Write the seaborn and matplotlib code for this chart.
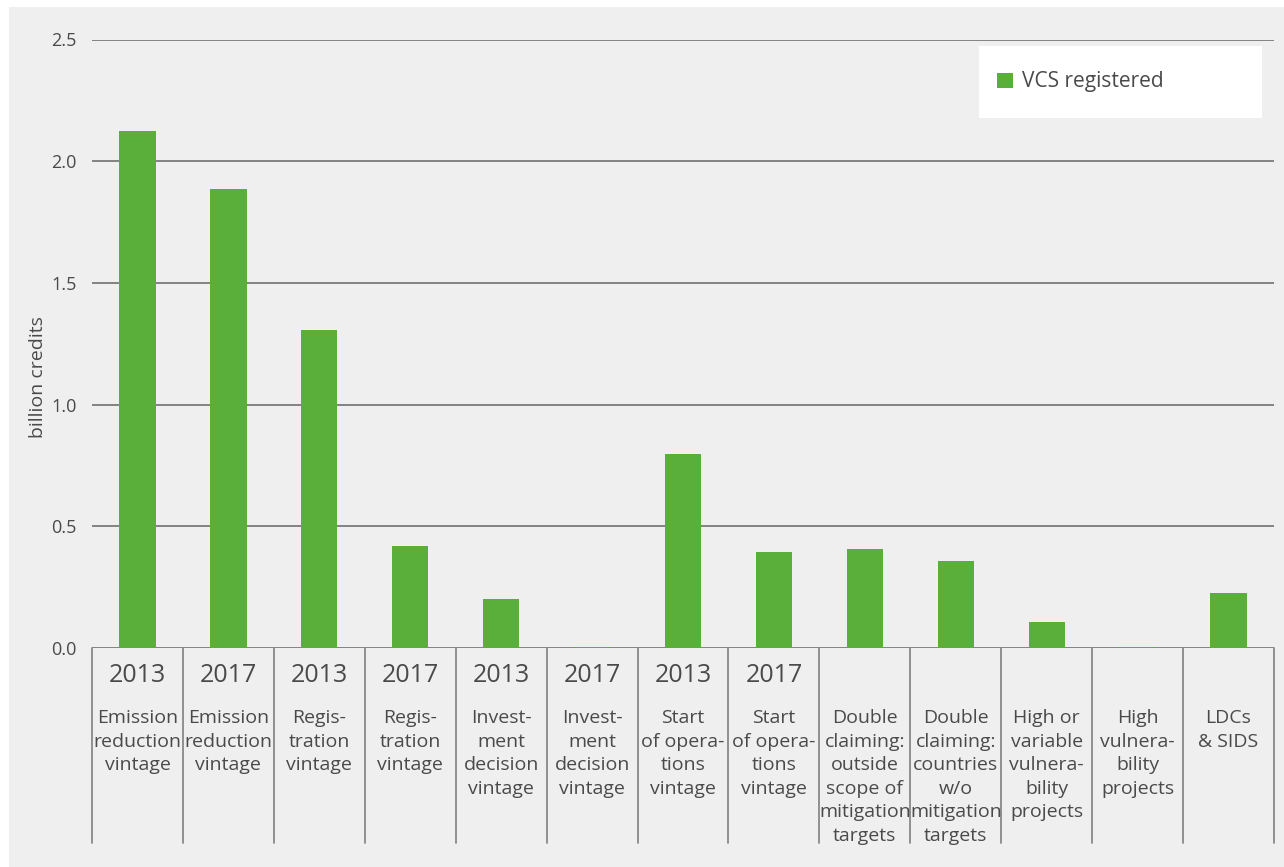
import matplotlib
matplotlib.use("Agg")
import matplotlib.pyplot as plt
import matplotlib.transforms as mtransforms
from matplotlib.patches import Rectangle
from matplotlib.lines import Line2D
import seaborn as sns
import pandas as pd

# ---- data ----
years = ["2013", "2017", "2013", "2017", "2013", "2017", "2013", "2017",
         "", "", "", "", ""]
categories = [
    "Emission\nreduction\nvintage",
    "Emission\nreduction\nvintage",
    "Regis-\ntration\nvintage",
    "Regis-\ntration\nvintage",
    "Invest-\nment\ndecision\nvintage",
    "Invest-\nment\ndecision\nvintage",
    "Start\nof opera-\ntions\nvintage",
    "Start\nof opera-\ntions\nvintage",
    "Double\nclaiming:\noutside\nscope of\nmitigation\ntargets",
    "Double\nclaiming:\ncountries\nw/o\nmitigation\ntargets",
    "High or\nvariable\nvulnera-\nbility\nprojects",
    "High\nvulnera-\nbility\nprojects",
    "LDCs\n& SIDS",
]
values = [2.125, 1.885, 1.305, 0.42, 0.20, 0.004, 0.795, 0.393,
          0.405, 0.357, 0.105, 0.004, 0.225]
series_name = "VCS registered"
y_ticks = [0.0, 0.5, 1.0, 1.5, 2.0, 2.5]
y_label = "billion credits"

W, H = 1284, 867
BG = "#efefef"
GREEN = "#5aaf3a"
TXT = "#4a4a4a"
LINE = "#707070"

sns.set_theme(style="white")
plt.rcParams["font.family"] = ["Open Sans", "DejaVu Sans"]

fig = plt.figure(figsize=(W / 100, H / 100), dpi=100)
fig.patch.set_facecolor("white")
fig.patches.append(Rectangle((9 / W, 0), 1 - 9 / W, 1 - 7 / H,
                             transform=fig.transFigure, facecolor=BG,
                             edgecolor="none", zorder=-10))

ax = fig.add_axes([92 / W, 1 - 648 / H, (1274 - 92) / W, (648 - 39.5) / H])
ax.set_facecolor("none")

df = pd.DataFrame({"key": [f"c{i}" for i in range(len(values))],
                   "value": values})
sns.barplot(data=df, x="key", y="value", color=GREEN, width=0.4,
            saturation=1, ax=ax, zorder=3, label=series_name, linewidth=0)
ax.set_xlim(-0.5, len(values) - 0.5)
ax.set_ylim(0, 2.5)
ax.set_yticks(y_ticks)
ax.set_yticklabels([f"{t:.1f}" for t in y_ticks], fontsize=13, color=TXT)
ax.tick_params(axis="y", length=0, pad=11)
ax.set_xticks([])
ax.set_xlabel("")
ax.set_ylabel("")
for s in ax.spines.values():
    s.set_visible(False)
ax.yaxis.grid(True, color=LINE, lw=1.2, zorder=0)
ax.set_axisbelow(True)

fig.text(38 / W, 1 - 377 / H, y_label, rotation=90, ha="center",
         va="center", fontsize=14, color=TXT)

# category dividers and labels below the axis
tr = mtransforms.blended_transform_factory(ax.transData, fig.transFigure)
for i in range(len(values) + 1):
    ax.add_line(Line2D([i - 0.5, i - 0.5], [1 - 648 / H, 1 - 843 / H],
                       transform=tr, color="#888888", lw=1.3, clip_on=False))
for i, (yr, cat) in enumerate(zip(years, categories)):
    if yr:
        ax.text(i, 1 - 675 / H, yr, transform=tr, ha="center", va="center",
                fontsize=18, color=TXT)
    ax.text(i, 1 - 709 / H, cat, transform=tr, ha="center", va="top",
            fontsize=14, color=TXT, linespacing=1.4)

# legend box
ax.add_patch(Rectangle((979 / W, 1 - 118 / H), (1262 - 979) / W,
                       (118 - 46) / H, transform=fig.transFigure,
                       facecolor="white", edgecolor="none", zorder=8,
                       clip_on=False))
leg = ax.legend(loc="center left", bbox_to_anchor=(987 / W, 1 - 82 / H),
                bbox_transform=fig.transFigure, frameon=False, fontsize=15,
                handlelength=0.75, handleheight=0.75, handletextpad=0.45,
                borderpad=0)
for t in leg.get_texts():
    t.set_color(TXT)
leg.set_zorder(10)

fig.savefig("out.png", dpi=100)
